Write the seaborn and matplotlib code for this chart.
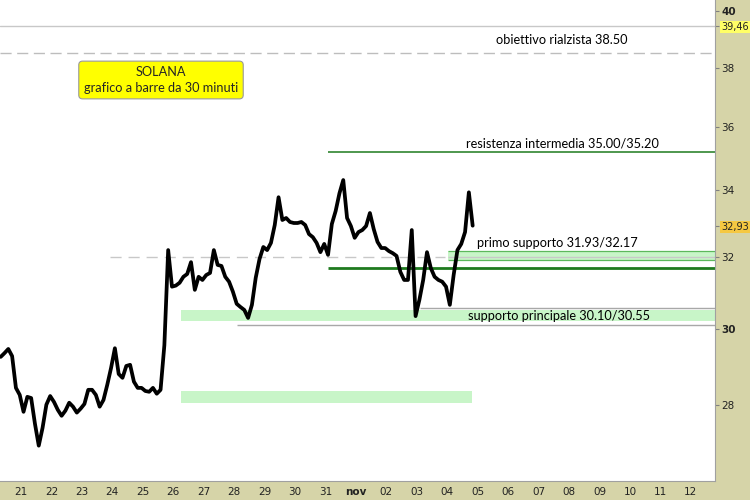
import pandas as pd
import seaborn as sns
import matplotlib.pyplot as plt
from matplotlib.ticker import NullLocator

# SOLANA, 30 min bars - closes every 3 hours
prices = [29.24, 29.34, 29.45, 29.26, 28.43, 28.25, 27.82, 28.20, 28.17, 27.52,
          26.98, 27.42, 28.00, 28.22, 28.07, 27.87, 27.72, 27.85, 28.05, 27.95,
          27.80, 27.90, 28.02, 28.38, 28.38, 28.25, 27.95, 28.12, 28.51, 28.95,
          29.47, 28.79, 28.69, 29.00, 29.03, 28.59, 28.43, 28.43, 28.35, 28.33,
          28.43, 28.28, 28.38, 29.55, 32.21, 31.16, 31.19, 31.27, 31.44, 31.52,
          31.86, 31.07, 31.44, 31.35, 31.49, 31.55, 32.21, 31.78, 31.75, 31.44,
          31.30, 31.02, 30.68, 30.59, 30.51, 30.29, 30.65, 31.41, 31.95, 32.30,
          32.21, 32.42, 32.95, 33.79, 33.10, 33.16, 33.04, 33.01, 33.01, 33.04,
          32.95, 32.68, 32.59, 32.42, 32.15, 32.39, 32.07, 32.98, 33.37, 33.91,
          34.32, 33.16, 32.92, 32.57, 32.74, 32.80, 32.92, 33.31, 32.83, 32.45,
          32.27, 32.27, 32.18, 32.12, 32.04, 31.58, 31.35, 31.35, 32.80, 30.34,
          30.79, 31.35, 32.15, 31.69, 31.44, 31.35, 31.30, 31.16, 30.65, 31.49,
          32.21, 32.39, 32.74, 33.94, 32.93]
times = pd.date_range('2022-10-20 08:00', periods=len(prices), freq='3h')

# levels drawn on the chart
livello_top = 39.46
obiettivo = 38.50
resistenza = 35.20
ultimo = 32.93
primo_supporto = [31.93, 32.17]
linea_32 = 32.00
linea_verde = 31.68
supporto_princ = [30.20, 30.52]
supp_princ_lo = 30.10
supp_princ_hi = 30.56
zona_bassa = [28.05, 28.35]

day_ticks = pd.date_range('2022-10-21', '2022-11-12', freq='D')
day_labels = ['21', '22', '23', '24', '25', '26', '27', '28', '29', '30', '31',
              'nov', '02', '03', '04', '05', '06', '07', '08', '09', '10', '11', '12']

x_left = pd.Timestamp('2022-10-20 07:27')
x_right = pd.Timestamp('2022-11-12 19:00')

sns.set_style('white')
plt.rcParams['font.family'] = ['DejaVu Sans']

khaki = '#d6d4a8'
light_green = '#c8f5c8'
dark_green = '#1e7a1e'

fig = plt.figure(figsize=(7.5, 5), dpi=100, facecolor=khaki)
ax = fig.add_axes([0, 19 / 500, 715 / 750, 481 / 500])
ax.set_facecolor('white')

# bands
ax.fill_between([pd.Timestamp('2022-11-04 00:30'), x_right], *primo_supporto,
                color=light_green, lw=0)
ax.fill_between([pd.Timestamp('2022-10-26 06:00'), x_right], *supporto_princ,
                color=light_green, lw=0)
ax.fill_between([pd.Timestamp('2022-10-26 06:00'), pd.Timestamp('2022-11-04 19:30')],
                *zona_bassa, color=light_green, lw=0)

# horizontal levels
ax.axhline(livello_top, color='#c8c8c8', lw=1)
ax.axhline(obiettivo, color='#bdbdbd', lw=1, ls=(0, (8, 4)))
ax.hlines(linea_32, pd.Timestamp('2022-10-23 22:00'), pd.Timestamp('2022-11-03 22:00'),
          color='#c8c8c8', lw=1, ls=(0, (8, 5)))
ax.hlines(linea_32, pd.Timestamp('2022-11-04 00:30'), x_right, color='#c8c8c8', lw=1)
ax.hlines(primo_supporto, pd.Timestamp('2022-11-04 00:30'), x_right, color='#5cb85c', lw=0.9)
ax.hlines(resistenza, pd.Timestamp('2022-10-31 02:00'), x_right, color=dark_green, lw=1.1)
ax.hlines(linea_verde, pd.Timestamp('2022-10-31 02:00'), x_right, color=dark_green, lw=2)
ax.hlines(supp_princ_lo, pd.Timestamp('2022-10-28 02:00'), x_right, color='#a8a8a8', lw=1)
ax.hlines(supp_princ_hi, pd.Timestamp('2022-11-03 02:30'), x_right, color='#a8a8a8', lw=1)

# price
sns.lineplot(x=times, y=prices, color='black', lw=2.7, ax=ax)

ax.set_yscale('log')
ax.set_ylim(26.13, 40.40)
ax.set_xlim(x_left, x_right)

yticks = [28, 30, 32, ultimo, 34, 36, 38, livello_top, 40]
ylabels = ['28', '30', '32', '32,93', '34', '36', '38', '39,46', '40']
ax.yaxis.tick_right()
ax.set_yticks(yticks, ylabels)
ax.yaxis.set_minor_locator(NullLocator())
ax.tick_params(axis='y', length=3, width=0.8, color='#808080', pad=1.5,
               labelsize=7.5, labelcolor='#222222')
for lab in ax.get_yticklabels():
    t = lab.get_text()
    if t in ('40', '30'):
        lab.set_fontweight('bold')
    if t == '32,93':
        lab.set_fontsize(7)
        lab.set_bbox(dict(facecolor='#f5c842', edgecolor='none', pad=0.6))
    if t == '39,46':
        lab.set_fontsize(7)
        lab.set_bbox(dict(facecolor='#ffff66', edgecolor='none', pad=0.6))

ax.set_xticks(day_ticks, day_labels)
ax.xaxis.set_minor_locator(NullLocator())
ax.tick_params(axis='x', length=0, pad=4, labelsize=7.5, labelcolor='#222222')
for lab in ax.get_xticklabels():
    if lab.get_text() == 'nov':
        lab.set_fontweight('bold')
ax.set_xlabel('')
ax.set_ylabel('')

for side in ['left', 'top']:
    ax.spines[side].set_visible(False)
for side in ['right', 'bottom']:
    ax.spines[side].set_color('#a0a0a0')
    ax.spines[side].set_linewidth(0.8)

txt = dict(fontsize=9.2, family='Lato', color='black', transform=ax.transAxes,
           ha='center', va='center')
ax.text(562 / 715, 1 - 40 / 481, 'obiettivo rialzista 38.50', **txt)
ax.text(562 / 715, 1 - 144 / 481, 'resistenza intermedia 35.00/35.20', **txt)
ax.text(557 / 715, 1 - 243 / 481, 'primo supporto 31.93/32.17', **txt)
ax.text(559 / 715, 1 - 316 / 481, 'supporto principale 30.10/30.55', **txt)
ax.text(161 / 715, 1 - 80 / 481, 'SOLANA\ngrafico a barre da 30 minuti',
        fontsize=9.2, family='Lato', ha='center', va='center', linespacing=1.35,
        transform=ax.transAxes,
        bbox=dict(boxstyle='round,pad=0.4,rounding_size=0.3', facecolor='#ffff00',
                  edgecolor='#9a9a9a', lw=0.8))

fig.savefig('out.png', dpi=100, facecolor=khaki)
